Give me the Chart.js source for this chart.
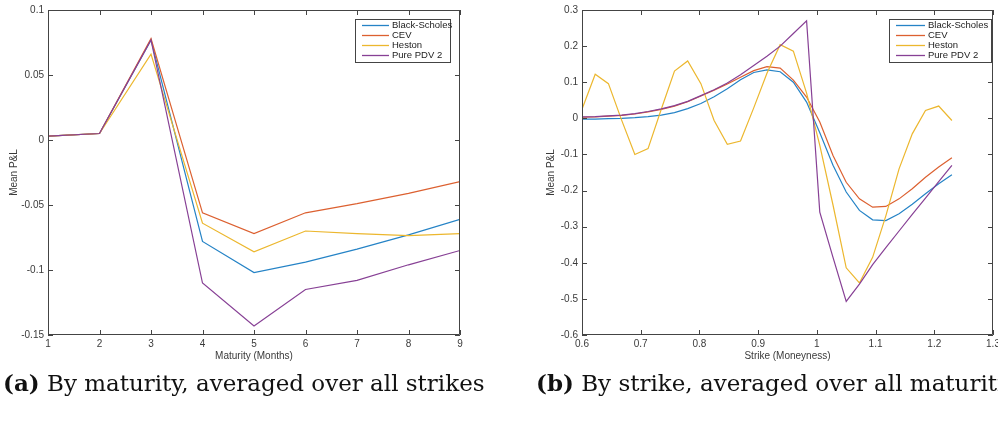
<!DOCTYPE html>
<html>
<head>
<meta charset="utf-8">
<title>Mean P&amp;L by maturity and strike</title>
<script src="https://cdn.jsdelivr.net/npm/chart.js@4.4.1/dist/chart.umd.min.js"></script>
<style>
  html, body { margin: 0; padding: 0; background: #fff; }
  body { width: 998px; height: 430px; position: relative; overflow: hidden; }
  canvas { position: absolute; top: 0; }
  #chartA { left: 0; }
  #chartB { left: 534px; }
  .caption {
    position: absolute; top: 370px; white-space: nowrap; line-height: 1.16;
    font-family: "DejaVu Serif", "Liberation Serif", serif; font-size: 23px; color: #111;
  }
  #capA { left: 3px; }
  #capB { left: 536px; }
</style>
</head>
<body>
<canvas id="chartA" width="470" height="370"></canvas>
<canvas id="chartB" width="464" height="370"></canvas>
<div class="caption" id="capA"><b>(a)</b> By maturity, averaged over all strikes</div>
<div class="caption" id="capB"><b>(b)</b> By strike, averaged over all maturities</div>
<script>
const seriesNames = ['Black-Scholes', 'CEV', 'Heston', 'Pure PDV 2'];

// panel (a): mean P&L against maturity in months
const maturities = [1, 2, 3, 4, 5, 6, 7, 8, 9];
const matBlackScholes = [0.003, 0.005, 0.077, -0.078, -0.102, -0.094, -0.084, -0.073, -0.061];
const matCEV          = [0.003, 0.005, 0.078, -0.056, -0.072, -0.056, -0.049, -0.041, -0.032];
const matHeston       = [0.003, 0.005, 0.066, -0.064, -0.086, -0.070, -0.072, -0.0735, -0.072];
const matPurePDV2     = [0.003, 0.005, 0.077, -0.110, -0.143, -0.115, -0.108, -0.096, -0.085];
const matXTicks = [1, 2, 3, 4, 5, 6, 7, 8, 9];
const matYTicks = [-0.15, -0.1, -0.05, 0, 0.05, 0.1];

// panel (b): mean P&L against strike (moneyness)
const strikes = [0.6, 0.6225, 0.645, 0.6675, 0.69, 0.7125, 0.735, 0.7575, 0.78, 0.8025,
                 0.825, 0.8475, 0.87, 0.8925, 0.915, 0.9375, 0.96, 0.9825, 1.005, 1.0275,
                 1.05, 1.0725, 1.095, 1.1175, 1.14, 1.1625, 1.185, 1.2075, 1.23];
const strBlackScholes = [-0.002, -0.002, -0.001, 0.000, 0.002, 0.005, 0.009, 0.016, 0.027, 0.041,
                         0.060, 0.082, 0.107, 0.127, 0.134, 0.129, 0.100, 0.045, -0.040, -0.130,
                         -0.204, -0.255, -0.281, -0.283, -0.264, -0.238, -0.209, -0.181, -0.156];
const strCEV          = [0.003, 0.004, 0.006, 0.008, 0.012, 0.018, 0.025, 0.034, 0.046, 0.062,
                         0.078, 0.095, 0.114, 0.132, 0.143, 0.139, 0.106, 0.059, -0.010, -0.103,
                         -0.177, -0.223, -0.246, -0.244, -0.223, -0.195, -0.163, -0.135, -0.109];
const strHeston       = [0.025, 0.122, 0.096, -0.005, -0.100, -0.084, 0.025, 0.131, 0.159, 0.096,
                         -0.006, -0.072, -0.063, 0.029, 0.125, 0.204, 0.186, 0.070, -0.075, -0.240,
                         -0.414, -0.456, -0.385, -0.270, -0.140, -0.043, 0.022, 0.034, -0.006];
const strPurePDV2     = [0.004, 0.005, 0.007, 0.009, 0.013, 0.019, 0.026, 0.035, 0.047, 0.063,
                         0.079, 0.098, 0.121, 0.146, 0.172, 0.200, 0.235, 0.270, -0.260, -0.385,
                         -0.507, -0.459, -0.405, -0.358, -0.312, -0.266, -0.221, -0.175, -0.130];
const strXTicks = [0.6, 0.7, 0.8, 0.9, 1, 1.1, 1.2, 1.3];
const strYTicks = [-0.6, -0.5, -0.4, -0.3, -0.2, -0.1, 0, 0.1, 0.2, 0.3];

const lineColors = ['#2583c6', '#dc6030', '#ecb72e', '#874095'];
const axisColor = '#444';
const textColor = '#3a3a3a';
const sansFamily = '"Liberation Sans", Arial, Helvetica, sans-serif';

// MATLAB-style box: full frame with inward tick marks on all four sides
const frameTicks = {
  id: 'frameTicks',
  afterDatasetsDraw(chart) {
    const { ctx, chartArea: a, scales: { x, y } } = chart;
    const len = 5;
    ctx.save();
    ctx.strokeStyle = axisColor;
    ctx.lineWidth = 1;
    ctx.beginPath();
    ctx.rect(Math.round(a.left) + 0.5, Math.round(a.top) + 0.5,
             Math.round(a.right - a.left) - 1, Math.round(a.bottom - a.top) - 1);
    x.ticks.forEach(t => {
      const px = Math.round(x.getPixelForValue(t.value)) + 0.5;
      ctx.moveTo(px, a.bottom); ctx.lineTo(px, a.bottom - len);
      ctx.moveTo(px, a.top); ctx.lineTo(px, a.top + len);
    });
    y.ticks.forEach(t => {
      const py = Math.round(y.getPixelForValue(t.value)) + 0.5;
      ctx.moveTo(a.left, py); ctx.lineTo(a.left + len, py);
      ctx.moveTo(a.right, py); ctx.lineTo(a.right - len, py);
    });
    ctx.stroke();
    ctx.restore();
  }
};

// boxed legend in the upper right corner of the axes
const boxLegend = {
  id: 'boxLegend',
  afterDraw(chart, args, opts) {
    const { ctx } = chart;
    ctx.save();
    ctx.fillStyle = '#fff';
    ctx.fillRect(opts.x, opts.y, opts.w, opts.h);
    ctx.strokeStyle = axisColor;
    ctx.lineWidth = 1;
    ctx.strokeRect(opts.x + 0.5, opts.y + 0.5, opts.w - 1, opts.h - 1);
    ctx.font = '9.5px ' + sansFamily;
    ctx.textBaseline = 'middle';
    chart.data.datasets.forEach((ds, i) => {
      const cy = opts.y + opts.rowTop + i * opts.rowGap;
      ctx.strokeStyle = ds.borderColor;
      ctx.lineWidth = 1.3;
      ctx.beginPath();
      ctx.moveTo(opts.x + opts.sample0, cy);
      ctx.lineTo(opts.x + opts.sample1, cy);
      ctx.stroke();
      ctx.fillStyle = '#222';
      ctx.fillText(ds.label, opts.x + opts.textX, cy);
    });
    ctx.restore();
  }
};

function buildDatasets(xs, seriesList) {
  return seriesList.map((ys, i) => ({
    label: seriesNames[i],
    data: xs.map((x, k) => ({ x: x, y: ys[k] })),
    borderColor: lineColors[i],
    backgroundColor: lineColors[i],
    borderWidth: 1.2,
    pointRadius: 0,
    tension: 0,
    order: seriesList.length - i
  }));
}

function makePanel(id, cfg) {
  const tickFont = { family: sansFamily, size: 10 };
  return new Chart(document.getElementById(id), {
    type: 'line',
    data: { datasets: buildDatasets(cfg.xs, cfg.series) },
    plugins: [frameTicks, boxLegend],
    options: {
      responsive: false,
      animation: false,
      devicePixelRatio: 1,
      layout: { padding: cfg.padding },
      plugins: {
        legend: { display: false },
        tooltip: { enabled: false },
        boxLegend: cfg.legend
      },
      scales: {
        x: {
          type: 'linear',
          min: cfg.xMin, max: cfg.xMax,
          grid: { display: false, drawTicks: false },
          border: { display: false },
          afterBuildTicks: s => { s.ticks = cfg.xTicks.map(v => ({ value: v })); },
          afterFit: s => { s.height = 28; s.paddingLeft = 0; s.paddingRight = 0; },
          ticks: { autoSkip: false, maxRotation: 0, padding: 3, color: textColor, font: tickFont,
                   callback: v => String(v) },
          title: { display: true, text: cfg.xTitle, color: textColor,
                   font: { family: sansFamily, size: 10 }, padding: { top: 0, bottom: 1 } }
        },
        y: {
          type: 'linear',
          min: cfg.yMin, max: cfg.yMax,
          grid: { display: false, drawTicks: false },
          border: { display: false },
          afterBuildTicks: s => { s.ticks = cfg.yTicks.map(v => ({ value: v })); },
          afterFit: s => { s.width = 48; s.paddingTop = 0; s.paddingBottom = 0; },
          ticks: { autoSkip: false, padding: 4, color: textColor, font: tickFont,
                   callback: v => String(v) },
          title: { display: true, text: 'Mean P&L', color: textColor,
                   font: { family: sansFamily, size: 10 }, padding: { top: cfg.yTitlePad, bottom: 0 } }
        }
      }
    }
  });
}

makePanel('chartA', {
  xs: maturities,
  series: [matBlackScholes, matCEV, matHeston, matPurePDV2],
  xMin: 1, xMax: 9, yMin: -0.15, yMax: 0.1,
  xTicks: matXTicks, yTicks: matYTicks,
  xTitle: 'Maturity (Months)',
  yTitlePad: 8,
  padding: { left: 0, top: 10, right: 10, bottom: 7 },
  legend: { x: 355, y: 19, w: 96, h: 44, sample0: 7, sample1: 34, textX: 37, rowTop: 6.5, rowGap: 10 }
});

makePanel('chartB', {
  xs: strikes,
  series: [strBlackScholes, strCEV, strHeston, strPurePDV2],
  xMin: 0.6, xMax: 1.3, yMin: -0.6, yMax: 0.3,
  xTicks: strXTicks, yTicks: strYTicks,
  xTitle: 'Strike (Moneyness)',
  yTitlePad: 11,
  padding: { left: 0, top: 10, right: 5, bottom: 7 },
  legend: { x: 355, y: 19, w: 103, h: 44, sample0: 7, sample1: 36, textX: 39, rowTop: 6.5, rowGap: 10 }
});
</script>
</body>
</html>
